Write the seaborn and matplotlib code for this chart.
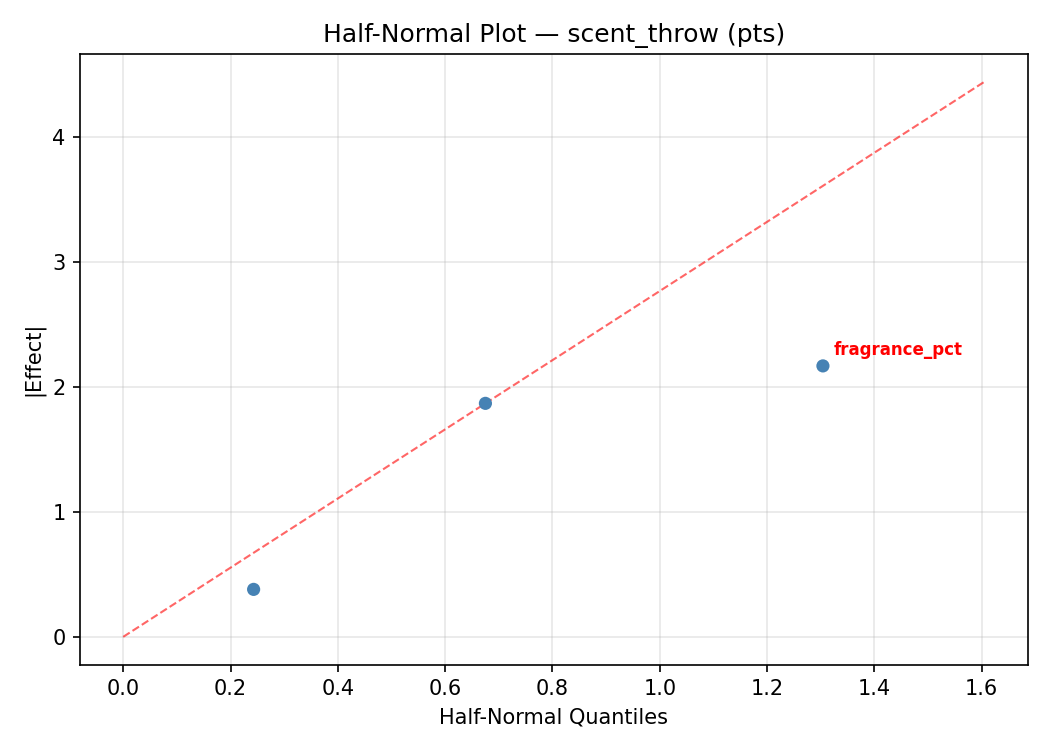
import numpy as np
import pandas as pd
import matplotlib
matplotlib.use("Agg")
import matplotlib.pyplot as plt
import seaborn as sns

# half-normal quantiles and absolute effects
factors = ["f1", "f2", "fragrance_pct"]
quantiles = [0.243, 0.675, 1.304]
abs_effects = [0.38, 1.87, 2.17]
ref_x = [0.0, 1.605]
ref_slope = 2.77
highlight = ["fragrance_pct"]

df = pd.DataFrame({"factor": factors, "q": quantiles, "effect": abs_effects})

plt.rcParams['font.family'] = ['DejaVu Sans']

fig, ax = plt.subplots(figsize=(7, 5), dpi=150)
ax.grid(True, alpha=0.3)
ax.set_axisbelow(True)

line_x = np.array(ref_x)
ax.plot(line_x, line_x * ref_slope, linestyle="--", color="red", alpha=0.6, linewidth=1)

sns.scatterplot(data=df, x="q", y="effect", ax=ax, color="steelblue", s=40,
                edgecolor="none", zorder=3)

for _, row in df.iterrows():
    if row["factor"] in highlight:
        ax.annotate(row["factor"], (row["q"], row["effect"]), xytext=(5, 5),
                    textcoords="offset points", color="red", fontsize=8,
                    fontweight="bold")

ax.set_title("Half-Normal Plot \u2014 scent_throw (pts)")
ax.set_xlabel("Half-Normal Quantiles")
ax.set_ylabel("|Effect|")
ax.set_xticks(np.arange(0, 1.61, 0.2))

plt.tight_layout()
plt.savefig("out.png", dpi=150)
